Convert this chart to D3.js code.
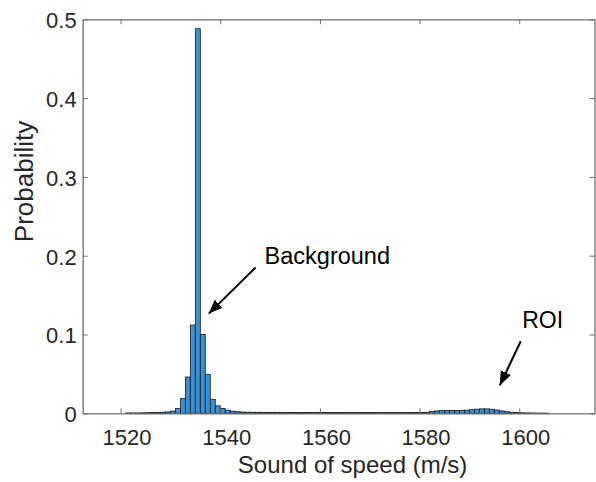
<!DOCTYPE html>
<html>
<head>
<meta charset="utf-8">
<script src="https://cdn.jsdelivr.net/npm/d3@7"></script>
<style>
  body { margin: 0; background: #fff; }
  svg { display: block; font-family: "Liberation Sans", Arial, sans-serif; }
</style>
</head>
<body>
<div id="chart"></div>
<script>
// histogram bins, 1 m/s wide, first bin starts at 1521 m/s
var binStart = 1521;
var binWidth = 1;
var probability = [
  0.0004, 0.0004, 0.0005, 0.0006, 0.0008, 0.0009, 0.0012, 0.0014, 0.0018, 0.0028, // 1521-1530
  0.0060, 0.0186, 0.0460, 0.1120, 0.4880, 0.1000, 0.0495, 0.0178, 0.0095, 0.0062, // 1531-1540
  0.0040, 0.0028, 0.0020, 0.0016, 0.0014, 0.0013, 0.0013, 0.0012, 0.0012, 0.0012, // 1541-1550
  0.0012, 0.0011, 0.0011, 0.0011, 0.0011, 0.0010, 0.0010, 0.0011, 0.0010, 0.0010, // 1551-1560
  0.0010, 0.0010, 0.0009, 0.0010, 0.0009, 0.0009, 0.0010, 0.0009, 0.0009, 0.0009, // 1561-1570
  0.0009, 0.0009, 0.0009, 0.0009, 0.0010, 0.0009, 0.0010, 0.0010, 0.0010, 0.0011, // 1571-1580
  0.0013, 0.0022, 0.0030, 0.0034, 0.0035, 0.0036, 0.0036, 0.0038, 0.0040, 0.0045, // 1581-1590
  0.0052, 0.0056, 0.0056, 0.0052, 0.0042, 0.0030, 0.0020, 0.0013, 0.0010, 0.0007, // 1591-1600
  0.0005, 0.0004, 0.0003, 0.0003, 0.0002                                          // 1601-1605
];

var xTicks = [1520, 1540, 1560, 1580, 1600];
var yTicks = [0, 0.1, 0.2, 0.3, 0.4, 0.5];

// annotations in data units: text anchor, arrow tail, arrow tip
var notes = [
  { label: "Background", tx: 1548.9, ty: 0.190, x1: 1547.1, y1: 0.185, x2: 1537.7, y2: 0.1265 },
  { label: "ROI",        tx: 1600.6, ty: 0.1088, x1: 1600.3, y1: 0.0914, x2: 1596.1, y2: 0.0355 }
];

var svgWidth = 596, svgHeight = 482;
var plotLeft = 82.7, plotRight = 594.5, plotTop = 19.3, plotBottom = 413.3;

var svg = d3.select("#chart").append("svg")
    .attr("width", svgWidth)
    .attr("height", svgHeight);

var x = d3.scaleLinear().domain([1512.4, 1615.1]).range([plotLeft, plotRight]);
var y = d3.scaleLinear().domain([0, 0.5]).range([plotBottom, plotTop]);

// Barras
svg.append("g")
  .selectAll("rect")
  .data(probability)
  .enter()
  .append("rect")
    .attr("x", (d, i) => x(binStart + i * binWidth))
    .attr("width", (d, i) => x(binStart + (i + 1) * binWidth) - x(binStart + i * binWidth))
    .attr("y", d => y(d))
    .attr("height", d => y(0) - y(d))
    .attr("fill", "#3891d5")
    .attr("stroke", "#1a1a1a")
    .attr("stroke-width", 0.8);

// Eixos (caixa com ticks para dentro)
var axisColor = "#6e6e6e";

function styleAxis(g, showText) {
  g.select(".domain").attr("stroke", axisColor).attr("stroke-width", 1.3);
  g.selectAll(".tick line").attr("stroke", axisColor).attr("stroke-width", 1);
  g.selectAll(".tick text")
    .attr("fill", "#262626")
    .style("font-size", "22px")
    .style("display", showText ? null : "none");
}

svg.append("g")
    .attr("transform", "translate(0," + plotBottom + ")")
    .call(d3.axisBottom(x).tickValues(xTicks).tickFormat(d3.format("d"))
      .tickSizeInner(-5).tickSizeOuter(0).tickPadding(16))
    .call(g => styleAxis(g, true))
    .call(g => g.selectAll(".tick text").attr("dx", 6));

svg.append("g")
    .attr("transform", "translate(0," + plotTop + ")")
    .call(d3.axisTop(x).tickValues(xTicks).tickSizeInner(-5).tickSizeOuter(0))
    .call(g => styleAxis(g, false));

svg.append("g")
    .attr("transform", "translate(" + plotLeft + ",0)")
    .call(d3.axisLeft(y).tickValues(yTicks).tickFormat(d => d === 0 ? "0" : d3.format(".1f")(d))
      .tickSizeInner(-5).tickSizeOuter(0).tickPadding(6))
    .call(g => styleAxis(g, true))
    .call(g => g.selectAll(".tick text").attr("dy", "0.38em"));

svg.append("g")
    .attr("transform", "translate(" + plotRight + ",0)")
    .call(d3.axisRight(y).tickValues(yTicks).tickSizeInner(-5).tickSizeOuter(0))
    .call(g => styleAxis(g, false));

// Títulos dos eixos
svg.append("text")
    .text("Sound of speed (m/s)")
    .attr("x", (plotLeft + plotRight) / 2 + 14)
    .attr("y", 473)
    .attr("text-anchor", "middle")
    .attr("fill", "#262626")
    .attr("font-size", 24);

svg.append("text")
    .text("Probability")
    .attr("transform", "translate(33," + 181.5 + ") rotate(-90)")
    .attr("text-anchor", "middle")
    .attr("fill", "#262626")
    .attr("font-size", 26);

// Setas e anotações
svg.append("defs").append("marker")
    .attr("id", "head")
    .attr("viewBox", "0 0 10 10")
    .attr("refX", 10).attr("refY", 5)
    .attr("markerWidth", 7).attr("markerHeight", 7)
    .attr("markerUnits", "strokeWidth")
    .attr("orient", "auto")
  .append("path")
    .attr("d", "M0,1 L10,5 L0,9 Z")
    .attr("fill", "#000");

var note = svg.append("g").selectAll("g").data(notes).enter().append("g");

note.append("line")
    .attr("x1", d => x(d.x1)).attr("y1", d => y(d.y1))
    .attr("x2", d => x(d.x2)).attr("y2", d => y(d.y2))
    .attr("stroke", "#000")
    .attr("stroke-width", 2)
    .attr("marker-end", "url(#head)");

note.append("text")
    .text(d => d.label)
    .attr("x", d => x(d.tx))
    .attr("y", d => y(d.ty))
    .attr("fill", "#000")
    .attr("font-size", d => d.label === "ROI" ? 23 : 23.5);
</script>
</body>
</html>
